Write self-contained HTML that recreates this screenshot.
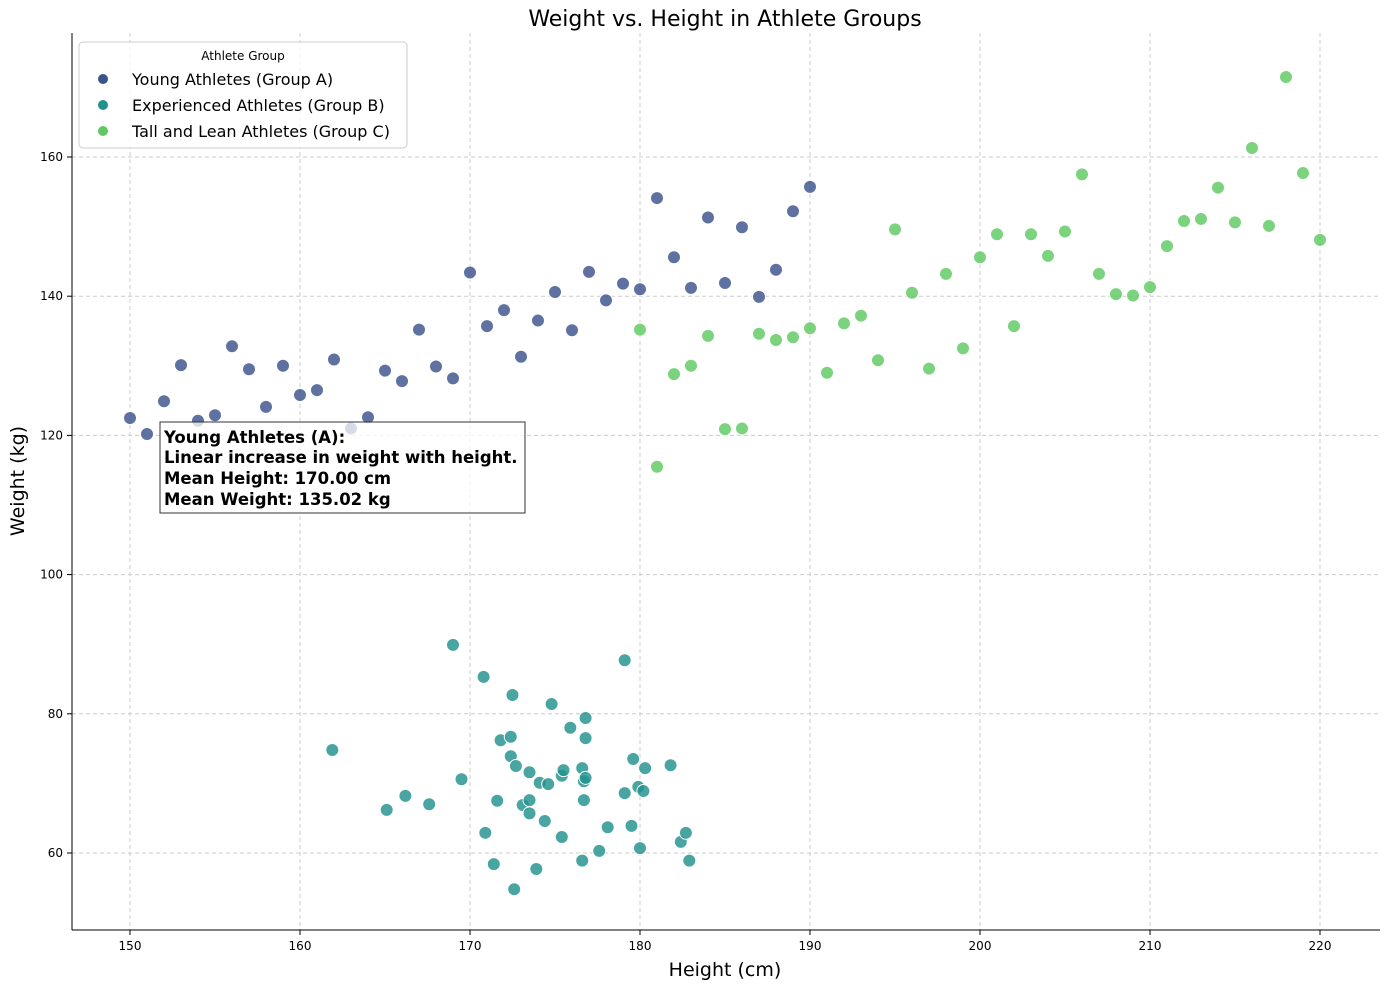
<!DOCTYPE html>
<html><head><meta charset="utf-8"><style>
body{margin:0;background:#fff;font-family:"DejaVu Sans",sans-serif}
svg text{font-family:"DejaVu Sans",sans-serif}
</style></head><body>
<svg id="chart" width="1390" height="989" xmlns="http://www.w3.org/2000/svg">
<rect width="1390" height="989" fill="#fff"/>
<g id="grid"></g><g id="ticks"></g><g id="pts"></g>
<line x1="72" y1="33" x2="72" y2="930" stroke="#000" stroke-width="1"/>
<line x1="72" y1="930" x2="1380" y2="930" stroke="#000" stroke-width="1"/>
<text x="725" y="26" font-size="22" text-anchor="middle">Weight vs. Height in Athlete Groups</text>
<text x="725" y="976" font-size="19" text-anchor="middle">Height (cm)</text>
<text x="24" y="481" font-size="19" text-anchor="middle" transform="rotate(-90 24 481)">Weight (kg)</text>
<g>
<rect x="160" y="422" width="365" height="91" fill="#fff" fill-opacity="0.75" stroke="#333" stroke-width="1"/>
<text x="164" y="443" font-size="16.5" font-weight="bold">Young Athletes (A):</text>
<text x="164" y="463" font-size="16.5" font-weight="bold">Linear increase in weight with height.</text>
<text x="164" y="484" font-size="16.5" font-weight="bold">Mean Height: 170.00 cm</text>
<text x="164" y="505" font-size="16.5" font-weight="bold">Mean Weight: 135.02 kg</text>
</g>
<g>
<rect x="79" y="42" width="328" height="106" rx="4" fill="#fff" fill-opacity="0.8" stroke="#ccc"/>
<text x="243" y="60" font-size="12" text-anchor="middle">Athlete Group</text>
<g><circle cx="103" cy="79" r="5" fill="#3b528b"/><text x="132" y="85" font-size="16">Young Athletes (Group A)</text></g>
<g><circle cx="103" cy="105" r="5" fill="#21918c"/><text x="132" y="111" font-size="16">Experienced Athletes (Group B)</text></g>
<g><circle cx="103" cy="131" r="5" fill="#5ec962"/><text x="132" y="137" font-size="16">Tall and Lean Athletes (Group C)</text></g>
</g>
</svg>
<script>
const xTicks=[150,160,170,180,190,200,210,220];
const yTicks=[60,80,100,120,140,160];
const aHeights=[150,151,152,153,154,155,156,157,158,159,160,161,162,163,164,165,166,167,168,169,170,171,172,173,174,175,176,177,178,179,180,181,182,183,184,185,186,187,188,189,190];
const aWeights=[122.5,120.2,124.9,130.1,122.1,122.9,132.8,129.5,124.1,130.0,125.8,126.5,130.9,121.0,122.6,129.3,127.8,135.2,129.9,128.2,143.4,135.7,138.0,131.3,136.5,140.6,135.1,143.5,139.4,141.8,141.0,154.1,145.6,141.2,151.3,141.9,149.9,139.9,143.8,152.2,155.7];
const bHeights=[161.9,165.1,166.2,167.6,169.0,169.5,170.8,170.9,171.4,171.6,171.8,172.4,172.5,172.4,172.7,172.6,173.1,173.5,173.5,173.5,173.9,174.1,174.4,174.6,174.8,175.4,175.5,175.4,175.9,176.6,176.7,176.6,176.7,176.8,176.8,176.8,177.6,178.1,179.1,179.1,179.5,179.6,179.9,180.0,180.2,180.3,181.8,182.4,182.7,182.9];
const bWeights=[74.8,66.2,68.2,67.0,89.9,70.6,85.3,62.9,58.4,67.5,76.2,76.7,82.7,73.9,72.5,54.8,66.9,71.6,67.6,65.7,57.7,70.1,64.6,69.9,81.4,71.1,71.9,62.3,78.0,58.9,70.3,72.2,67.6,70.8,76.5,79.4,60.3,63.7,68.6,87.7,63.9,73.5,69.5,60.7,68.9,72.2,72.6,61.6,62.9,58.9];
const cHeights=[180,181,182,183,184,185,186,187,188,189,190,191,192,193,194,195,196,197,198,199,200,201,202,203,204,205,206,207,208,209,210,211,212,213,214,215,216,217,218,219,220];
const cWeights=[135.2,115.5,128.8,130.0,134.3,120.9,121.0,134.6,133.7,134.1,135.4,129.0,136.1,137.2,130.8,149.6,140.5,129.6,143.2,132.5,145.6,148.9,135.7,148.9,145.8,149.3,157.5,143.2,140.3,140.1,141.3,147.2,150.8,151.1,155.6,150.6,161.3,150.1,171.5,157.7,148.1];
const NS='http://www.w3.org/2000/svg';
const X=v=>130+(v-150)*17;
const Y=v=>853-(v-60)*6.96;
function mk(t,at,p){const e=document.createElementNS(NS,t);for(const k in at)e.setAttribute(k,at[k]);p.appendChild(e);return e;}
const grid=document.getElementById('grid'),ticks=document.getElementById('ticks'),pts=document.getElementById('pts');
xTicks.forEach(t=>{
 const l=mk('line',{x1:X(t),x2:X(t),y1:33,y2:930,stroke:'#ccc','stroke-dasharray':'4 3'},grid);
 
 
 const k=mk('line',{x1:X(t),x2:X(t),y1:930,y2:935,stroke:'#000'},ticks);
 
 
 const s=mk('text',{x:X(t),y:950,'font-size':12,'text-anchor':'middle'},ticks);
 
 
 s.textContent=t;
});
yTicks.forEach(t=>{
 const l=mk('line',{x1:72,x2:1380,y1:Y(t),y2:Y(t),stroke:'#ccc','stroke-dasharray':'4 3'},grid);
 
 
 const k=mk('line',{x1:67,x2:72,y1:Y(t),y2:Y(t),stroke:'#000'},ticks);
 
 
 const s=mk('text',{x:63,y:Y(t)+4,'font-size':12,'text-anchor':'end'},ticks);
 
 
 s.textContent=t;
});
function series(hs,ws,col,name){
 hs.forEach((h,i)=>{
  const c=mk('circle',{cx:X(h),cy:Y(ws[i]),r:6.5,fill:col,'fill-opacity':0.82,stroke:'#fff','stroke-width':1},pts);
  
  
 });
}
series(aHeights,aWeights,'#3b528b','point-group-a');
series(bHeights,bWeights,'#21918c','point-group-b');
series(cHeights,cWeights,'#5ec962','point-group-c');
</script>
</body></html>
